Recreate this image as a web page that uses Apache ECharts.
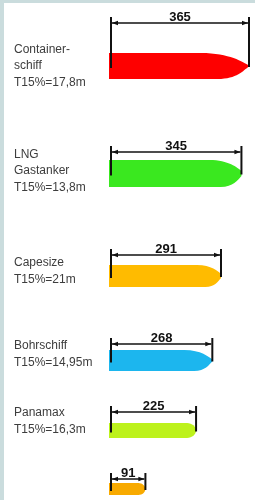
<!DOCTYPE html>
<html>
<head>
<meta charset="utf-8">
<script src="https://cdn.jsdelivr.net/npm/echarts@6/dist/echarts.min.js"></script>
<style>
html, body { margin: 0; padding: 0; background: #fff; }
#chart { width: 255px; height: 500px; }
</style>
</head>
<body>
<div id="chart"></div>
<script>
// ship data
var shipNames = ['Container-\nschiff', 'LNG\nGastanker', 'Capesize', 'Bohrschiff', 'Panamax', ''];
var drafts = ['17,8', '13,8', '21', '14,95', '16,3', ''];
var lengths = [365, 345, 291, 268, 225, 91];

// layout per row (px): bar top, bar height, gap of dimension line above bar, label centre, bow shape
var rowTop = [53, 160, 265, 350, 423, 483];
var rowH = [26, 27, 22, 21, 15, 12];
var dimGap = [30, 8, 10, 6, 11, 4];
var labelY = [66, 171, 271, 354, 421, 0];
var bowLen = [48, 32, 24, 28, 9, 7];
var tipHalf = [0.5, 2.5, 2, 1, 0, 0];
var colors = ['#fe0000', '#3ae81f', '#ffbb00', '#1cb6ee', '#bdf21c', '#f8aa00'];

var chart = echarts.init(document.getElementById('chart'));

function bowPath(x0, xe, t, m, b, bow, tip, round) {
    var h = b - t;
    var xb = xe - bow, xb2 = xe - bow * 0.65;
    if (round) {
        return 'M' + x0 + ' ' + t + ' L' + xb + ' ' + t +
            ' C' + (xb + bow * 0.55) + ' ' + t + ' ' + xe + ' ' + (m - h * 0.25) + ' ' + xe + ' ' + m +
            ' C' + xe + ' ' + (m + h * 0.25) + ' ' + (xb + bow * 0.55) + ' ' + b + ' ' + xb + ' ' + b +
            ' L' + x0 + ' ' + b + ' Z';
    }
    return 'M' + x0 + ' ' + t + ' L' + xb + ' ' + t +
        ' C' + (xb + bow * 0.6) + ' ' + t + ' ' + (xe - bow * 0.12) + ' ' + (m - tip - h * 0.12) + ' ' + xe + ' ' + (m - tip) +
        ' L' + xe + ' ' + (m + tip) +
        ' C' + (xe - bow * 0.12) + ' ' + (m + tip + h * 0.15) + ' ' + (xb2 + bow * 0.4) + ' ' + b + ' ' + xb2 + ' ' + b +
        ' L' + x0 + ' ' + b + ' Z';
}

function makeRender(i) {
    return function (params, api) {
        var end = api.coord([api.value(0), 0]);
        var start = api.coord([0, 0]);
        var h = rowH[i];
        var x0 = start[0], xe = end[0], m = end[1];
        var t = m - h / 2, b = m + h / 2;
        var dy = t - dimGap[i];
        var children = [
            { type: 'path', shape: { pathData: bowPath(x0 - 2, xe, t, m, b, bowLen[i], tipHalf[i], i >= 4) }, style: { fill: colors[i] } },
            { type: 'line', shape: { x1: x0, y1: dy - 6, x2: x0, y2: m + 2 }, style: { stroke: '#111', lineWidth: 2 } },
            { type: 'line', shape: { x1: xe, y1: dy - 6, x2: xe, y2: m + 1 }, style: { stroke: '#111', lineWidth: 2 } },
            { type: 'line', shape: { x1: x0 + 1, y1: dy, x2: xe - 1, y2: dy }, style: { stroke: '#111', lineWidth: 1.4 } },
            { type: 'polygon', shape: { points: [[x0 + 1, dy], [x0 + 7, dy - 2.2], [x0 + 7, dy + 2.2]] }, style: { fill: '#111' } },
            { type: 'polygon', shape: { points: [[xe - 1, dy], [xe - 7, dy - 2.2], [xe - 7, dy + 2.2]] }, style: { fill: '#111' } },
            {
                type: 'text',
                style: {
                    x: (x0 + xe) / 2, y: dy + 1, text: String(lengths[i]),
                    fill: '#111', fontSize: 13, fontWeight: 'bold',
                    fontFamily: 'Liberation Sans Narrow, Liberation Sans, sans-serif',
                    align: 'center', verticalAlign: 'bottom'
                }
            }
        ];
        if (shipNames[i]) {
            children.push({
                type: 'text',
                style: {
                    x: 14, y: labelY[i], text: shipNames[i] + '\nT15%=' + drafts[i] + 'm',
                    fill: '#3d3d3d', fontSize: 12, lineHeight: 16.5,
                    fontFamily: 'Liberation Sans, Arial, sans-serif',
                    align: 'left', verticalAlign: 'middle'
                }
            });
        }
        return { type: 'group', children: children };
    };
}

var grids = [], xAxes = [], yAxes = [], series = [];
lengths.forEach(function (len, i) {
    grids.push({ left: 111, right: 6, top: rowTop[i], height: rowH[i] });
    xAxes.push({ gridIndex: i, type: 'value', min: 0, max: 365, show: false });
    yAxes.push({ gridIndex: i, type: 'category', data: [shipNames[i] || 'x'], show: false });
    series.push({
        type: 'custom',
        xAxisIndex: i,
        yAxisIndex: i,
        clip: false,
        silent: true,
        data: [[len, 0]],
        renderItem: makeRender(i)
    });
});

chart.setOption({
    animation: false,
    backgroundColor: '#fff',
    graphic: [
        { type: 'rect', left: 0, top: 0, shape: { width: 255, height: 3 }, style: { fill: '#cadcdd' } },
        { type: 'rect', left: 0, top: 0, shape: { width: 4, height: 500 }, style: { fill: '#cadcdd' } }
    ],
    grid: grids,
    xAxis: xAxes,
    yAxis: yAxes,
    series: series
});
</script>
</body>
</html>
